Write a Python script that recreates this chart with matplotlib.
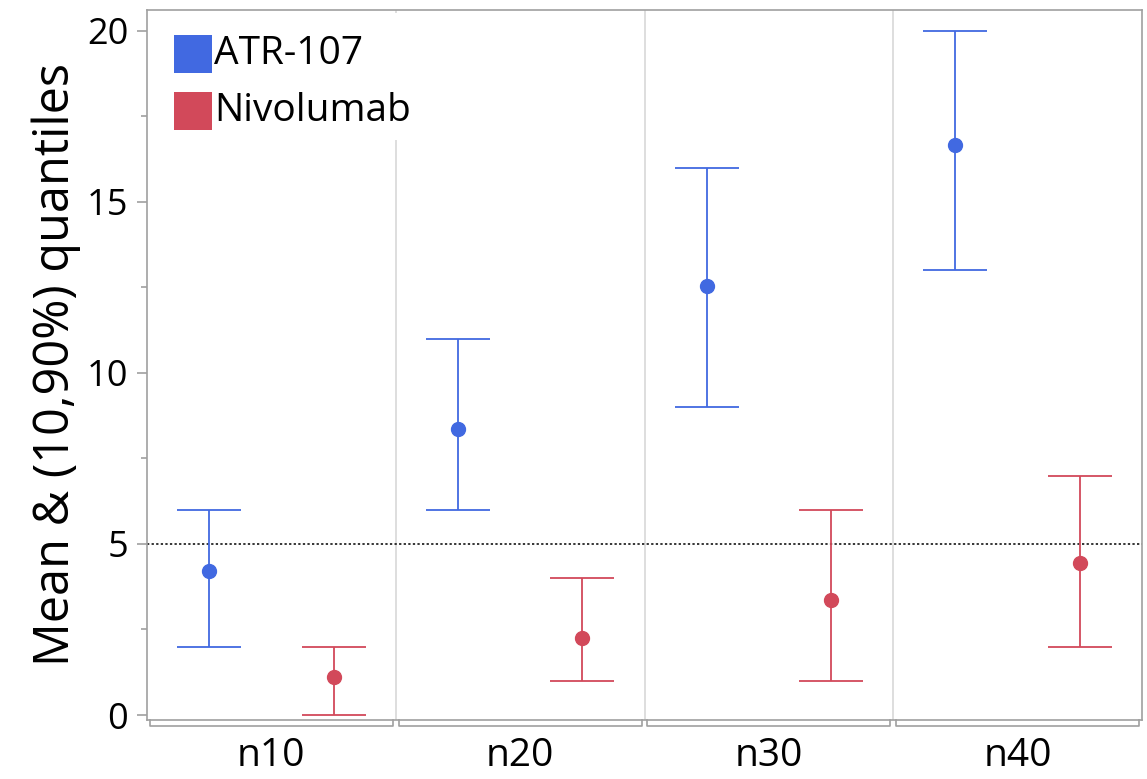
import matplotlib
matplotlib.use("Agg")
import matplotlib.pyplot as plt
from matplotlib.patches import Rectangle
import numpy as np

plt.rcParams['font.family'] = ['Open Sans', 'DejaVu Sans']

groups = ["n10", "n20", "n30", "n40"]
atr_mean = [4.2, 8.35, 12.55, 16.65]
atr_lo = [2, 6, 9, 13]
atr_hi = [6, 11, 16, 20]
nivo_mean = [1.1, 2.25, 3.35, 4.45]
nivo_lo = [0, 1, 1, 2]
nivo_hi = [2, 4, 6, 7]
series_names = ["ATR-107", "Nivolumab"]

blue = "#4169E1"
red = "#D2495A"
gray = "#A0A0A0"

W, H = 1147, 779
fig = plt.figure(figsize=(W / 100, H / 100), dpi=100)
ax_l, ax_r, ax_t, ax_b = 147, 1142, 10, 720
ax = fig.add_axes([ax_l / W, 1 - ax_b / H, (ax_r - ax_l) / W, (ax_b - ax_t) / H])

x = np.arange(len(groups))
ax.set_xlim(-0.5, len(groups) - 0.5)
ax.set_ylim(-0.146, 20.61)

# panel separators
for b in x[:-1] + 0.5:
    ax.axvline(b, color="#D8D8D8", lw=1.2, zorder=0)

ax.axhline(5, color="black", lw=1.1, ls=(0, (1.5, 1.5)), zorder=1)

px_per_unit = (ax_r - ax_l) / len(groups)
cap_pts = 0.127 * px_per_unit * 72 / 100
for xs, m, lo, hi, c in [(x - 0.25, atr_mean, atr_lo, atr_hi, blue),
                         (x + 0.25, nivo_mean, nivo_lo, nivo_hi, red)]:
    m = np.array(m); lo = np.array(lo); hi = np.array(hi)
    ax.errorbar(xs, m, yerr=[m - lo, hi - m], fmt='o', color=c, ms=10,
                ecolor=c, elinewidth=1.3, capsize=cap_pts, capthick=1.3, zorder=3)

for s in ax.spines.values():
    s.set_color(gray)
    s.set_linewidth(1.2)

ax.set_yticks([0, 5, 10, 15, 20])
ax.set_yticks([2.5, 7.5, 12.5, 17.5], minor=True)
ax.tick_params(axis='y', which='major', length=7.5, width=1.2, color=gray, labelsize=26, pad=6)
ax.tick_params(axis='y', which='minor', length=4, width=1.2, color=gray)
ax.set_xticks(x)
ax.set_xticklabels(groups)
ax.tick_params(axis='x', length=0, labelsize=28, pad=12)

# per-panel bracket below bottom axis
trans = ax.get_xaxis_transform()
yb = -0.0085
for i in x:
    l, r = i - 0.5 + 0.012, i + 0.5 - 0.012
    ax.plot([l, l, r, r], [0, yb, yb, 0], color=gray, lw=1.2, transform=trans, clip_on=False)

ax.set_ylabel("Mean & (10,90%) quantiles", fontsize=35, labelpad=4)

# legend (manual, square swatches)
def ax_xy(px, py):
    return (px - ax_l) / (ax_r - ax_l), (ax_b - py) / (ax_b - ax_t)

bx0, by0 = ax_xy(150, 140)
bx1, by1 = ax_xy(440, 13)
ax.add_patch(Rectangle((bx0, by0), bx1 - bx0, by1 - by0, transform=ax.transAxes,
                       facecolor="white", edgecolor="none", zorder=4))
for name, c, top in [(series_names[0], blue, 35), (series_names[1], red, 92)]:
    sx0, sy0 = ax_xy(174, top + 38)
    sx1, sy1 = ax_xy(212, top)
    ax.add_patch(Rectangle((sx0, sy0), sx1 - sx0, sy1 - sy0, transform=ax.transAxes,
                           facecolor=c, edgecolor="none", zorder=5))
    tx, ty = ax_xy(214, top + 19)
    ax.text(tx, ty, name, transform=ax.transAxes, fontsize=28, va="center",
            ha="left", zorder=6)

fig.savefig("out.png", dpi=100)
